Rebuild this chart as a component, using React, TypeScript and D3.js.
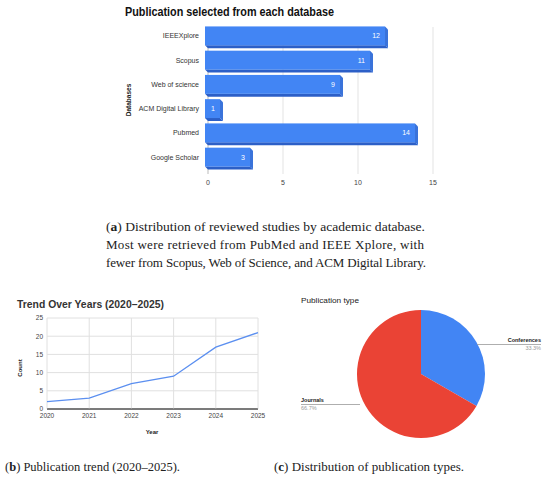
import React from "react";
import * as d3 from "d3";

const dbNames = ["IEEEXplore", "Scopus", "Web of science", "ACM Digital Library", "Pubmed", "Google Scholar"];
const dbCounts = [12, 11, 9, 1, 14, 3];
const dbTicks = [0, 5, 10, 15];

const years = [2020, 2021, 2022, 2023, 2024, 2025];
const yearCounts = [2, 3, 7, 9, 17, 21];
const countTicks = [0, 5, 10, 15, 20, 25];

const typeNames = ["Conferences", "Journals"];
const typeValues = [33.3, 66.7];
const typeColors = ["#4285f4", "#ea4335"];

const captionA = [
  "(a) Distribution of reviewed studies by academic database.",
  "Most were retrieved from PubMed and IEEE Xplore, with",
  "fewer from Scopus, Web of Science, and ACM Digital Library.",
];

const sans = "'Liberation Sans', Arial, sans-serif";
const serif = "'Liberation Serif', 'DejaVu Serif', serif";

function BarChart() {
  const x = d3.scaleLinear().domain([0, 15]).range([208, 433]);
  const y = d3.scaleBand().domain(dbNames).range([25, 170]).paddingInner(0.22).paddingOuter(0.1);
  const h = y.bandwidth();
  const d = 3;
  return (
    <g>
      <text x={125} y={15.5} fontFamily={sans} fontWeight="bold" fontSize={12} fill="#111" textLength={209} lengthAdjust="spacingAndGlyphs">
        Publication selected from each database
      </text>
      {dbTicks.map((t) => (
        <g key={t}>
          <line x1={x(t)} x2={x(t)} y1={27} y2={174} stroke={t === 0 ? "#bbb" : "#e3e3e3"} strokeWidth={1} />
          <text x={x(t)} y={185} textAnchor="middle" fontFamily={sans} fontSize={7} fill="#444">{t}</text>
        </g>
      ))}
      {dbNames.map((n, i) => {
        const y0 = y(n)! - 1;
        const x0 = x(0) - d;
        const x1 = x(dbCounts[i]) - d;
        return (
          <g key={n}>
            <polygon points={`${x0},${y0 + h} ${x1},${y0 + h} ${x1 + d},${y0 + h + d} ${x0 + d},${y0 + h + d}`} fill="#2c5fc7" />
            <polygon points={`${x1},${y0} ${x1 + d},${y0 + d} ${x1 + d},${y0 + h + d} ${x1},${y0 + h}`} fill="#3a73da" />
            <rect x={x0} y={y0} width={x1 - x0} height={h} fill="#4285f4" />
            <text x={x1 - 5} y={y0 + h / 2 + 2.5} textAnchor="end" fontFamily={sans} fontSize={7} fill="#fff">{dbCounts[i]}</text>
            <text x={199} y={y0 + h / 2 + 2.5} textAnchor="end" fontFamily={sans} fontSize={7} fill="#333">{n}</text>
          </g>
        );
      })}
      <text transform="translate(131,100) rotate(-90)" textAnchor="middle" fontFamily={sans} fontWeight="bold" fontSize={6.5} fill="#222">Databases</text>
    </g>
  );
}

function LineChart() {
  const x = d3.scaleLinear().domain([2020, 2025]).range([47, 258]);
  const y = d3.scaleLinear().domain([0, 25]).range([409, 318]);
  const line = d3.line<number>().x((_, i) => x(years[i])).y((v) => y(v));
  return (
    <g>
      <text x={17} y={308} fontFamily={sans} fontWeight="bold" fontSize={10.5} fill="#333" textLength={147} lengthAdjust="spacingAndGlyphs">
        Trend Over Years (2020–2025)
      </text>
      {countTicks.map((t) => (
        <g key={t}>
          <line x1={47} x2={258} y1={y(t)} y2={y(t)} stroke={t === 0 ? "#444" : "#e0e0e0"} strokeWidth={1} />
          <text x={43} y={y(t) + 2.3} textAnchor="end" fontFamily={sans} fontSize={6.5} fill="#444">{t}</text>
        </g>
      ))}
      {years.map((yr) => (
        <g key={yr}>
          <line x1={x(yr)} x2={x(yr)} y1={318} y2={409} stroke="#e0e0e0" strokeWidth={1} />
          <text x={x(yr)} y={418} textAnchor="middle" fontFamily={sans} fontSize={6.5} fill="#444">{yr}</text>
        </g>
      ))}
      <line x1={47} x2={258} y1={409} y2={409} stroke="#555" strokeWidth={1} />
      <path d={line(yearCounts)!} fill="none" stroke="#5b8ff0" strokeWidth={1.3} />
      <text x={152} y={434} textAnchor="middle" fontFamily={sans} fontWeight="bold" fontSize={6} fill="#222">Year</text>
      <text transform="translate(22,368) rotate(-90)" textAnchor="middle" fontFamily={sans} fontWeight="bold" fontSize={6} fill="#222">Count</text>
    </g>
  );
}

function PieChart() {
  const cx = 421, cy = 374, r = 64;
  const pie = d3.pie<number>().sort(null)(typeValues);
  const arc = d3.arc<d3.PieArcDatum<number>>().innerRadius(0).outerRadius(r);
  return (
    <g>
      <text x={301} y={303} fontFamily={sans} fontSize={8} fill="#222" textLength={58} lengthAdjust="spacingAndGlyphs">Publication type</text>
      <g transform={`translate(${cx},${cy})`}>
        {pie.map((p, i) => (
          <path key={i} d={arc(p)!} fill={typeColors[i]} />
        ))}
      </g>
      <line x1={477} x2={541} y1={344.5} y2={344.5} stroke="#999" strokeWidth={0.8} />
      <text x={541} y={342} textAnchor="end" fontFamily={sans} fontWeight="bold" fontSize={5.5} fill="#222">{typeNames[0]}</text>
      <text x={541} y={350} textAnchor="end" fontFamily={sans} fontSize={5.5} fill="#999">{typeValues[0].toFixed(1)}%</text>
      <line x1={301} x2={360} y1={404.5} y2={404.5} stroke="#999" strokeWidth={0.8} />
      <text x={301} y={402} fontFamily={sans} fontWeight="bold" fontSize={5.5} fill="#222">{typeNames[1]}</text>
      <text x={301} y={410} fontFamily={sans} fontSize={5.5} fill="#999">{typeValues[1].toFixed(1)}%</text>
    </g>
  );
}

function Caption({ x, y, parts, len }: { x: number; y: number; parts: [string, string]; len: number }) {
  return (
    <text x={x} y={y} fontFamily={serif} fontSize={13} fill="#222" textLength={len} lengthAdjust="spacingAndGlyphs">
      (<tspan fontWeight="bold">{parts[0]}</tspan>){parts[1]}
    </text>
  );
}

export default function App() {
  const capWidths = [319, 318, 320];
  return (
    <svg width={550} height={491} style={{ position: "absolute", left: 0, top: 0, background: "#fff" }}>
      <rect width={550} height={491} fill="#fff" />
      <BarChart />
      {captionA.map((line, i) =>
        i === 0 ? (
          <Caption key={i} x={106} y={231} parts={["a", line.slice(3)]} len={capWidths[0]} />
        ) : (
          <text key={i} x={106} y={231 + i * 18} fontFamily={serif} fontSize={13} fill="#222" textLength={capWidths[i]} lengthAdjust="spacing">
            {line}
          </text>
        )
      )}
      <LineChart />
      <PieChart />
      <Caption x={5} y={471} parts={["b", " Publication trend (2020–2025)."]} len={175} />
      <Caption x={274} y={471} parts={["c", " Distribution of publication types."]} len={190} />
    </svg>
  );
}
